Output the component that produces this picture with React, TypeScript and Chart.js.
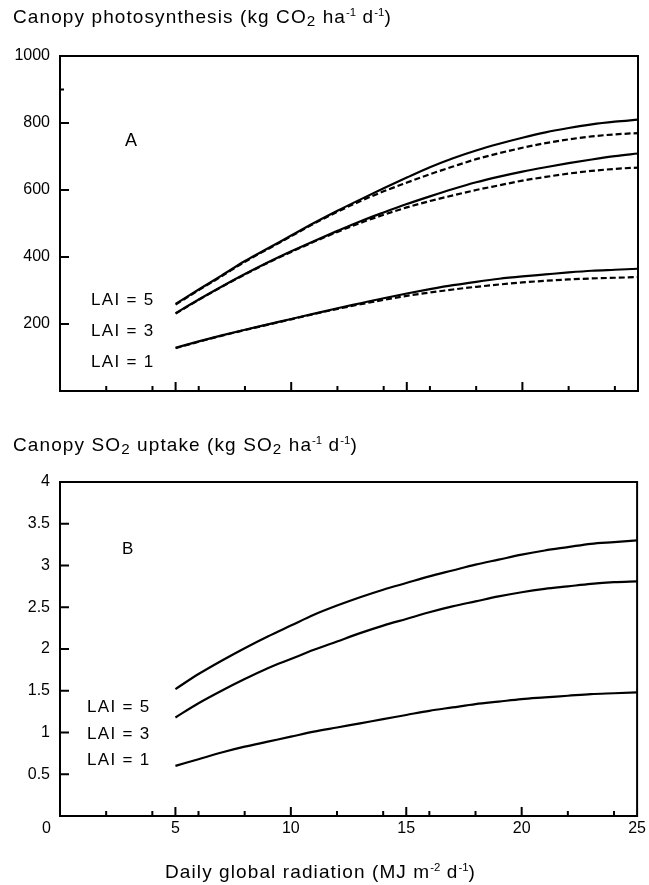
import React, { useEffect, useRef } from 'react';
import { Chart, registerables } from 'chart.js';

Chart.register(...registerables);

const FONT = "'Liberation Sans', Arial, Helvetica, sans-serif";

// ---------- data ----------
const radiation = [5, 6, 7, 8, 9, 10, 11, 12, 13, 14, 15, 16, 17, 18, 19, 20, 21, 22, 23, 24, 25];

// Panel A: canopy photosynthesis (kg CO2 ha-1 d-1)
const photoLai5 = [260, 303, 345, 388, 426, 464, 502, 538, 572, 605, 637, 668, 695, 718, 738, 756, 772, 785, 796, 804, 810];
const photoLai5Dashed = [258, 301, 343, 386, 424, 462, 500, 535, 567, 596, 622, 647, 670, 692, 710, 726, 740, 751, 760, 766, 770];
const photoLai3 = [232, 273, 312, 349, 384, 417, 448, 478, 507, 533, 558, 581, 603, 623, 640, 655, 668, 680, 691, 701, 709];
const photoLai3Dashed = [231, 272, 311, 348, 383, 415, 446, 475, 502, 526, 548, 567, 584, 600, 614, 628, 639, 649, 657, 663, 667];
const photoLai1 = [129, 148, 166, 183, 199, 215, 231, 247, 262, 277, 291, 304, 316, 326, 335, 342, 348, 354, 359, 362, 365];
const photoLai1Dashed = [128, 147, 165, 182, 198, 214, 230, 245, 259, 272, 284, 294, 303, 311, 318, 324, 329, 333, 336, 338, 340];

// Panel B: canopy SO2 uptake (kg SO2 ha-1 d-1)
const so2Lai5 = [1.52, 1.70, 1.86, 2.01, 2.15, 2.28, 2.41, 2.52, 2.62, 2.71, 2.79, 2.87, 2.94, 3.01, 3.07, 3.13, 3.18, 3.22, 3.26, 3.28, 3.30];
const so2Lai3 = [1.18, 1.35, 1.50, 1.64, 1.77, 1.88, 1.99, 2.09, 2.19, 2.28, 2.36, 2.44, 2.51, 2.57, 2.63, 2.68, 2.72, 2.75, 2.78, 2.80, 2.81];
const so2Lai1 = [0.60, 0.68, 0.76, 0.83, 0.89, 0.95, 1.01, 1.06, 1.11, 1.16, 1.21, 1.26, 1.30, 1.34, 1.37, 1.40, 1.42, 1.44, 1.46, 1.47, 1.48];

// ticks
const xMajorTicks = [5, 10, 15, 20];
const xMinorTicks = [2, 4, 6, 8, 12, 14, 16, 18, 22, 24];
const photoMajorTicks = [200, 400, 600, 800];
const photoMinorTicks = [900];
const so2MajorTicks = [0.5, 1, 1.5, 2, 2.5, 3, 3.5];
const laiLabels = ['LAI = 5', 'LAI = 3', 'LAI = 1'];

type Series = { label: string; values: number[]; dashed?: boolean };

function makeFramePlugin(cfg: { yMajor: number[]; yMinor: number[]; zeroLabel: boolean }) {
  return {
    id: 'frame',
    afterDraw(chart: any) {
      const { ctx, chartArea } = chart;
      const { left, right, top, bottom } = chartArea;
      const xs = chart.scales.x;
      const ys = chart.scales.y;
      ctx.save();
      ctx.strokeStyle = '#000';
      ctx.lineWidth = 2;
      ctx.strokeRect(left, top, right - left, bottom - top);
      ctx.beginPath();
      xMajorTicks.forEach((v) => {
        const p = xs.getPixelForValue(v);
        ctx.moveTo(p, bottom);
        ctx.lineTo(p, bottom - 9);
      });
      xMinorTicks.forEach((v) => {
        const p = xs.getPixelForValue(v);
        ctx.moveTo(p, bottom);
        ctx.lineTo(p, bottom - 5);
      });
      cfg.yMajor.forEach((v) => {
        const p = ys.getPixelForValue(v);
        ctx.moveTo(left, p);
        ctx.lineTo(left + 9, p);
      });
      cfg.yMinor.forEach((v) => {
        const p = ys.getPixelForValue(v);
        ctx.moveTo(left, p);
        ctx.lineTo(left + 4, p);
      });
      ctx.stroke();
      if (cfg.zeroLabel) {
        ctx.fillStyle = '#000';
        ctx.font = `16px ${FONT}`;
        ctx.textAlign = 'right';
        ctx.textBaseline = 'middle';
        ctx.fillText('0', left - 9, bottom + 12.6);
      }
      ctx.restore();
    },
  };
}

function LineChart(props: {
  series: Series[];
  yMax: number;
  yStep: number;
  height: number;
  padTop: number;
  axisH: number;
  showX: boolean;
  yMajor: number[];
  yMinor: number[];
  zeroLabel: boolean;
}) {
  const ref = useRef<HTMLCanvasElement | null>(null);
  useEffect(() => {
    if (!ref.current) return;
    const chart = new Chart(ref.current, {
      type: 'line',
      data: {
        datasets: props.series.map((s) => ({
          label: s.label,
          data: radiation.map((x, i) => ({ x, y: s.values[i] })),
          borderColor: '#000',
          borderWidth: 2.2,
          borderDash: s.dashed ? [6, 3] : [],
          pointRadius: 0,
          fill: false,
          cubicInterpolationMode: 'monotone' as const,
        })),
      },
      options: {
        animation: false,
        responsive: false,
        devicePixelRatio: 1,
        layout: { padding: { top: props.padTop, left: 0, right: 11, bottom: 0 } },
        plugins: { legend: { display: false }, tooltip: { enabled: false } },
        scales: {
          x: {
            type: 'linear',
            min: 0,
            max: 25,
            grid: { display: false, drawTicks: false },
            border: { display: false },
            ticks: {
              display: props.showX,
              stepSize: 5,
              padding: 3,
              color: '#000',
              font: { size: 16, family: FONT },
              callback: (v: any) => (Number(v) === 0 ? '' : String(v)),
            },
            afterFit: (s: any) => {
              s.height = props.axisH;
            },
          },
          y: {
            type: 'linear',
            min: 0,
            max: props.yMax,
            grid: { display: false, drawTicks: false },
            border: { display: false },
            ticks: {
              stepSize: props.yStep,
              padding: 10,
              color: '#000',
              font: { size: 16, family: FONT },
              callback: (v: any) => (Number(v) === 0 ? '' : String(+Number(v).toFixed(2))),
            },
            afterFit: (s: any) => {
              s.width = 60;
            },
          },
        },
      },
      plugins: [makeFramePlugin({ yMajor: props.yMajor, yMinor: props.yMinor, zeroLabel: props.zeroLabel })],
    } as any);
    return () => chart.destroy();
  }, []);
  return <canvas ref={ref} width={649} height={props.height} style={{ width: 649, height: props.height, display: 'block' }} />;
}

const Sup = ({ c }: { c: string }) => (
  <span style={{ fontSize: '0.6em', position: 'relative', top: '-0.6em', letterSpacing: 0 }}>{c}</span>
);
const Sub = ({ c }: { c: string }) => (
  <span style={{ fontSize: '0.8em', position: 'relative', top: '0.2em' }}>{c}</span>
);

const Txt = (p: { left: number; top: number; size: number; spacing?: number; children: any }) => (
  <div
    style={{
      position: 'absolute',
      left: p.left,
      top: p.top,
      fontSize: p.size,
      lineHeight: 1,
      letterSpacing: (p.spacing ?? 0) + 'px',
      fontFamily: FONT,
      whiteSpace: 'nowrap',
      color: '#000',
    }}
  >
    {p.children}
  </div>
);

export default function App() {
  const topSeries: Series[] = [
    { label: 'LAI = 5', values: photoLai5 },
    { label: 'LAI = 5 (dashed)', values: photoLai5Dashed, dashed: true },
    { label: 'LAI = 3', values: photoLai3 },
    { label: 'LAI = 3 (dashed)', values: photoLai3Dashed, dashed: true },
    { label: 'LAI = 1', values: photoLai1 },
    { label: 'LAI = 1 (dashed)', values: photoLai1Dashed, dashed: true },
  ];
  const bottomSeries: Series[] = [
    { label: 'LAI = 5', values: so2Lai5 },
    { label: 'LAI = 3', values: so2Lai3 },
    { label: 'LAI = 1', values: so2Lai1 },
  ];
  const topLaiY = [290.7, 321.7, 352.7];
  const botLaiY = [697.7, 724.7, 750.7];
  return (
    <div style={{ position: 'absolute', left: 0, top: 0, width: 649, height: 885, background: '#fff', overflow: 'hidden' }}>
      <div style={{ position: 'absolute', left: 0, top: 0 }}>
        <LineChart
          series={topSeries}
          yMax={1000}
          yStep={200}
          height={420}
          padTop={56}
          axisH={29}
          showX={false}
          yMajor={photoMajorTicks}
          yMinor={photoMinorTicks}
          zeroLabel={false}
        />
      </div>
      <div style={{ position: 'absolute', left: 0, top: 420 }}>
        <LineChart
          series={bottomSeries}
          yMax={4}
          yStep={0.5}
          height={465}
          padTop={62}
          axisH={69}
          showX={true}
          yMajor={so2MajorTicks}
          yMinor={[]}
          zeroLabel={true}
        />
      </div>
      <Txt left={13} top={6.7} size={19} spacing={1.1}>
        Canopy photosynthesis (kg CO<Sub c="2" /> ha<Sup c="-1" /> d<Sup c="-1" />)
      </Txt>
      <Txt left={13} top={434.7} size={19} spacing={1.1}>
        Canopy SO<Sub c="2" /> uptake (kg SO<Sub c="2" /> ha<Sup c="-1" /> d<Sup c="-1" />)
      </Txt>
      <Txt left={165} top={862} size={19} spacing={1.1}>
        Daily global radiation (MJ m<Sup c="-2" /> d<Sup c="-1" />)
      </Txt>
      <Txt left={125} top={131} size={18}>A</Txt>
      <Txt left={122} top={540} size={17}>B</Txt>
      {laiLabels.map((l, i) => (
        <Txt key={'t' + i} left={91} top={topLaiY[i]} size={17} spacing={1.3}>{l}</Txt>
      ))}
      {laiLabels.map((l, i) => (
        <Txt key={'b' + i} left={87} top={botLaiY[i]} size={17} spacing={1.3}>{l}</Txt>
      ))}
    </div>
  );
}
